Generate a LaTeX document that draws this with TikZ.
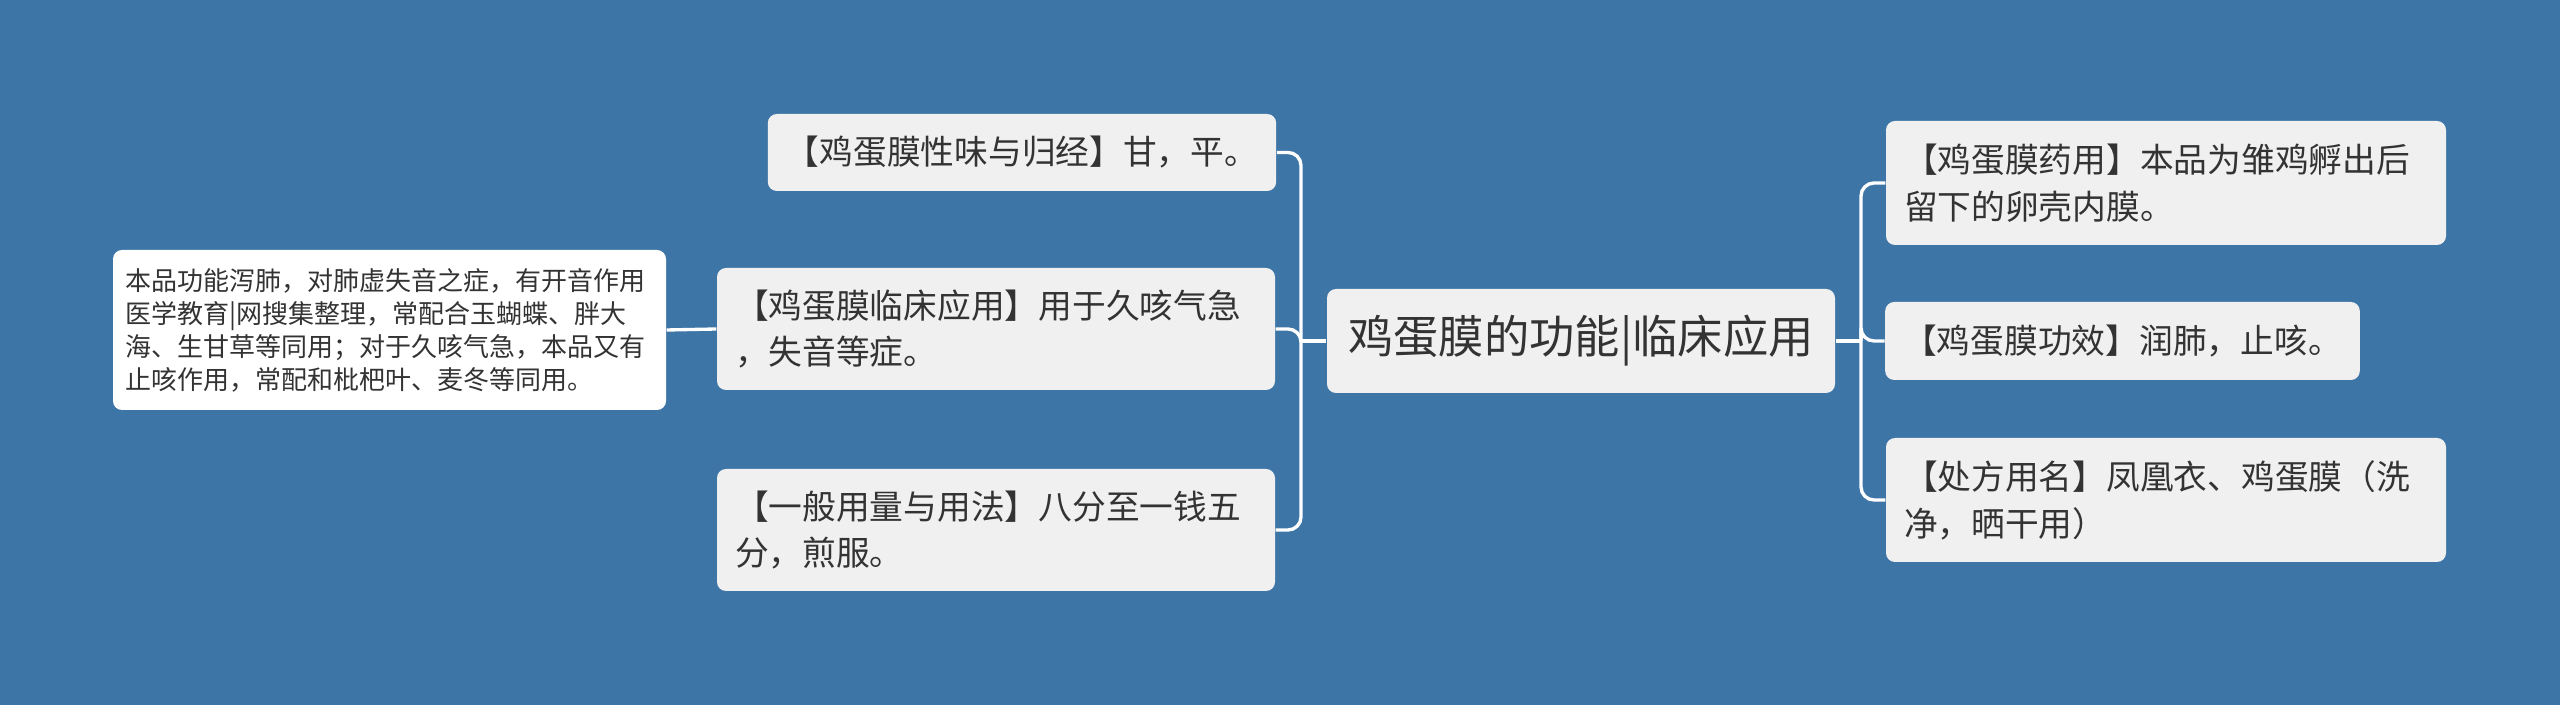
\documentclass[tikz,border=0pt]{standalone}
\usepackage{fontspec}
\setmainfont{Noto Sans CJK SC}
\XeTeXlinebreaklocale "zh"
\definecolor{mapblue}{RGB}{62,117,167}
\definecolor{boxgray}{RGB}{240,240,240}
\definecolor{textgray}{RGB}{51,51,51}
\usetikzlibrary{positioning,calc}

\begin{document}
\begin{tikzpicture}[
    topic/.style={rectangle, rounded corners=0.09cm, fill=boxgray, text=textgray, inner xsep=0.18cm, inner ysep=0.1cm, align=left, font=\fontsize{9.6pt}{13.3pt}\selectfont},
    leaf/.style={topic, fill=white, inner xsep=0.12cm, font=\fontsize{7.4pt}{9.4pt}\selectfont},
    link/.style={draw=white, line width=0.95pt, rounded corners=0.13cm}
]
    % Background
    \fill[mapblue] (0,0) rectangle (25.6,-7.05);

    % Center
    \node[topic, align=center, minimum width=5.08cm, minimum height=1.04cm, font=\fontsize{12.9pt}{15pt}\selectfont] (root) at (15.81,-3.41) {鸡蛋膜的功能|临床应用};

    % Left branches
    \node[topic, align=center, minimum width=5.06cm, minimum height=0.77cm] (l1) at (10.22,-1.525) {【鸡蛋膜性味与归经】甘，平。};
    \node[topic, text width=5.22cm, minimum height=1.22cm] (l2) at (9.96,-3.29) {【鸡蛋膜临床应用】用于久咳气急\\，失音等症。};
    \node[topic, text width=5.22cm, minimum height=1.22cm] (l3) at (9.96,-5.30) {【一般用量与用法】八分至一钱五\\分，煎服。};

    % Leaf
    \node[leaf, text width=5.29cm, minimum height=1.60cm] (leaf) at (3.895,-3.30) {本品功能泻肺，对肺虚失音之症，有开音作用\\医学教育|网搜集整理，常配合玉蝴蝶、胖大\\海、生甘草等同用；对于久咳气急，本品又有\\止咳作用，常配和枇杷叶、麦冬等同用。};

    % Right branches
    \node[topic, text width=5.24cm, minimum height=1.24cm] (r1) at (21.66,-1.83) {【鸡蛋膜药用】本品为雏鸡孵出后\\留下的卵壳内膜。};
    \node[topic, align=center, minimum width=4.73cm, minimum height=0.78cm] (r2) at (21.225,-3.41) {【鸡蛋膜功效】润肺，止咳。};
    \node[topic, text width=5.24cm, minimum height=1.24cm] (r3) at (21.66,-5.00) {【处方用名】凤凰衣、鸡蛋膜（洗\\净，晒干用）};

    % Links
    \coordinate (lj) at (13.01,-3.41);
    \coordinate (rj) at (18.61,-3.41);
    \draw[link] (root.west) -- (lj);
    \foreach \n in {l1,l2,l3}
        \draw[link] (lj) |- (\n.east);
    \draw[link] (l2.west) -- (leaf.east);
    \draw[link] (root.east) -- (rj);
    \foreach \n in {r1,r2,r3}
        \draw[link] (rj) |- (\n.west);
\end{tikzpicture}
\end{document}
